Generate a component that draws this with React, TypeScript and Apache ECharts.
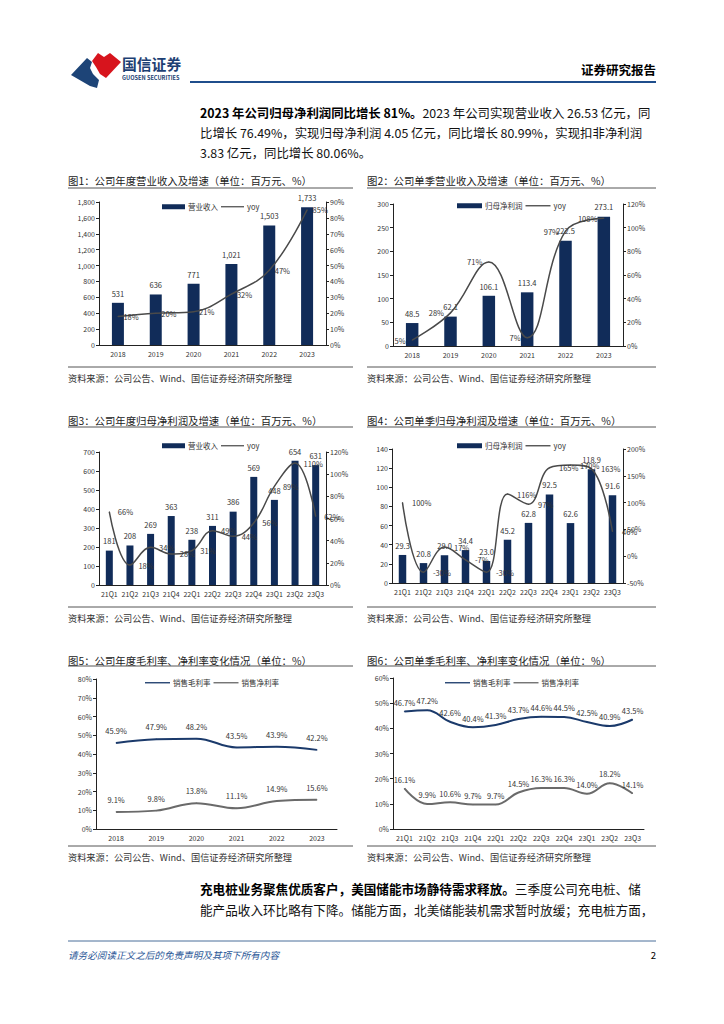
import React, { useEffect, useRef } from "react";
import * as echarts from "echarts";

// ---------- data ----------
const years = ["2018", "2019", "2020", "2021", "2022", "2023"];
const quarters = ["21Q1", "21Q2", "21Q3", "21Q4", "22Q1", "22Q2", "22Q3", "22Q4", "23Q1", "23Q2", "23Q3"];

const c1Revenue = [531, 636, 771, 1021, 1503, 1733];
const c1Yoy = [18, 20, 21, 32, 47, 85];

const c2Profit = [48.5, 62.1, 106.1, 113.4, 222.5, 273.1];
const c2Yoy = [5, 28, 71, 7, 97, 108];

const c3Revenue = [181, 208, 269, 363, 238, 311, 386, 569, 448, 654, 631];
const c3Yoy = [66, 18, 34, 28, 31, 49, 44, 56, 89, 110, 62];

const c4Profit = [29.3, 20.8, 29.0, 34.4, 23.0, 45.2, 62.8, 92.5, 62.6, 118.9, 91.6];
const c4Yoy = [100, -30, 17, -7, -30, 116, 97, 165, 170, 163, 46];

const c5Gross = [45.9, 47.9, 48.2, 43.5, 43.9, 42.2];
const c5Net = [9.1, 9.8, 13.8, 11.1, 14.9, 15.6];

const c6Gross = [46.7, 47.2, 42.6, 40.4, 41.3, 43.7, 44.6, 44.5, 42.5, 40.9, 43.5];
const c6Net = [16.1, 9.9, 10.6, 9.7, 9.7, 14.5, 16.3, 16.3, 14.0, 18.2, 14.1];

const titles = [
  "图1：公司年度营业收入及增速（单位：百万元、%）",
  "图2：公司单季营业收入及增速（单位：百万元、%）",
  "图3：公司年度归母净利润及增速（单位：百万元、%）",
  "图4：公司单季归母净利润及增速（单位：百万元、%）",
  "图5：公司年度毛利率、净利率变化情况（单位：%）",
  "图6：公司单季毛利率、净利率变化情况（单位：%）",
];
const sourceText = "资料来源：公司公告、Wind、国信证券经济研究所整理";

// ---------- styles ----------
const NAVY = "#112c59";
const GRAY_LINE = "#4a4a4a";
const GROSS_LINE = "#1b3a6b";
const NET_LINE = "#6a6a6a";
const FONT = '"Noto Sans CJK SC", "Liberation Sans", sans-serif';
const TXT = "#333";
const LINE_ICON = "path://M0,0 L30,0 L30,1.6 L0,1.6 Z";

const grids = [
  { left: 99, top: 202, width: 227, height: 143 },
  { left: 393, top: 204, width: 230, height: 142 },
  { left: 99, top: 452, width: 227, height: 133 },
  { left: 392, top: 449, width: 231, height: 134 },
  { left: 96, top: 679, width: 241, height: 150 },
  { left: 393, top: 678, width: 251, height: 151 },
];

function xAxis(gridIndex: number, data: string[]) {
  return {
    type: "category",
    gridIndex,
    data,
    axisLine: { show: true, lineStyle: { color: "#222", width: 1 } },
    axisTick: { show: false },
    axisLabel: { interval: 0, fontSize: 7, color: TXT, margin: 5, fontFamily: FONT },
  };
}

function yAxis(gridIndex: number, position: string, min: number, max: number, interval: number, formatter: any) {
  return {
    type: "value",
    gridIndex,
    position,
    min,
    max,
    interval,
    axisLine: { show: true, lineStyle: { color: "#222", width: 1 } },
    axisTick: { show: true, length: 3, lineStyle: { color: "#222" } },
    splitLine: { show: false },
    axisLabel: { fontSize: 7, color: TXT, margin: 4, fontFamily: FONT, formatter },
  };
}

const thousands = (v: number) => v.toLocaleString("en-US");
const pct = (v: number) => v + "%";

function barSeries(name: string, xi: number, yi: number, data: number[], barWidth: number, fmt: (v: number) => string) {
  return {
    type: "bar",
    name,
    xAxisIndex: xi,
    yAxisIndex: yi,
    data,
    barWidth,
    itemStyle: { color: NAVY },
    label: {
      show: true,
      position: "top",
      distance: 6,
      fontSize: 7.5,
      color: TXT,
      fontFamily: FONT,
      formatter: (p: any) => fmt(p.value),
    },
  };
}

function lineSeries(
  name: string,
  xi: number,
  yi: number,
  data: number[],
  color: string,
  width: number,
  pos: string,
  dist: number,
  fmt: (v: number) => string
) {
  return {
    type: "line",
    name,
    xAxisIndex: xi,
    yAxisIndex: yi,
    data,
    smooth: 0.4,
    symbol: "circle",
    symbolSize: 1,
    itemStyle: { color },
    lineStyle: { color, width },
    label: {
      show: true,
      position: pos,
      distance: dist,
      fontSize: 7.5,
      color: TXT,
      fontFamily: FONT,
      formatter: (p: any) => fmt(p.value),
    },
  };
}

function legend(left: number, top: number, data: any[], itemWidth: number, itemHeight: number) {
  return {
    left,
    top,
    padding: 0,
    itemGap: 3,
    itemWidth,
    itemHeight,
    symbolKeepAspect: true,
    textStyle: { fontSize: 7.5, color: TXT, fontFamily: FONT, padding: [0, 0, 0, -2] },
    data,
  };
}

function txt(text: string, x: number, y: number, fontSize: number, opts: any = {}) {
  return {
    type: "text",
    x,
    y,
    silent: true,
    style: {
      text,
      fontSize,
      fontFamily: FONT,
      fill: opts.fill || "#111",
      fontWeight: opts.fontWeight || "normal",
      fontStyle: opts.fontStyle || "normal",
      textAlign: opts.align || "left",
      textVerticalAlign: "middle",
    },
  };
}

function richLine(bold: string, normal: string, x: number, y: number, fontSize: number) {
  return {
    type: "text",
    x,
    y,
    silent: true,
    style: {
      text: (bold ? "{b|" + bold + "}" : "") + (normal ? "{n|" + normal + "}" : ""),
      textVerticalAlign: "middle",
      rich: {
        b: { fontSize, fontFamily: FONT, fontWeight: "bold", fill: "#000" },
        n: { fontSize, fontFamily: FONT, fontWeight: "normal", fill: "#111" },
      },
    },
  };
}

function hline(x1: number, x2: number, y: number, color: string, width: number) {
  return {
    type: "line",
    silent: true,
    shape: { x1, y1: y, x2, y2: y },
    style: { stroke: color, lineWidth: width },
  };
}

function buildOption() {
  const graphics: any[] = [];
  // header logo
  graphics.push({
    type: "polygon",
    silent: true,
    shape: { points: [[71, 75], [87, 58], [92, 62], [90, 68], [93, 74], [99, 80], [97, 88], [90, 86]] },
    style: { fill: "#1d4477" },
  });
  graphics.push({
    type: "polygon",
    silent: true,
    shape: { points: [[92, 61], [98, 53], [104, 57], [110, 53], [121, 62], [106, 78], [100, 74], [96, 67]] },
    style: { fill: "#d7141d" },
  });
  graphics.push(txt("国信证券", 122, 63, 14.8, { fill: "#1d3f73", fontWeight: "bold" }));
  graphics.push(txt("GUOSEN SECURITIES", 122, 78, 5.6, { fill: "#1d3f73", fontWeight: "bold" }));
  graphics.push(txt("证券研究报告", 656, 69, 12.5, { fill: "#000", fontWeight: "bold", align: "right" }));
  graphics.push(hline(190, 656, 82, "#1f4e8c", 2));

  // top paragraph
  graphics.push(richLine("2023 年公司归母净利润同比增长 81%。", "2023 年公司实现营业收入 26.53 亿元，同", 200, 113, 12.4));
  graphics.push(richLine("", "比增长 76.49%，实现归母净利润 4.05 亿元，同比增长 80.99%，实现扣非净利润", 200, 133, 12.4));
  graphics.push(richLine("", "3.83 亿元，同比增长 80.06%。", 200, 153, 12.4));

  // chart titles, rules, sources
  const colX = [[68, 353], [367, 656]];
  const titleY = [180, 420, 660];
  const titleLineY = [188, 427, 666];
  const srcLineY = [367, 607, 846];
  const srcY = [378, 618, 857];
  for (let r = 0; r < 3; r++) {
    for (let c = 0; c < 2; c++) {
      const [x1, x2] = colX[c];
      graphics.push(txt(titles[r * 2 + c], x1, titleY[r], 10.4, { fill: "#222" }));
      graphics.push(hline(x1, x2, titleLineY[r], "#555", 1));
      graphics.push(hline(x1, x2, srcLineY[r], "#555", 1));
      graphics.push(txt(sourceText, x1, srcY[r], 9.2, { fill: "#333" }));
    }
  }

  // bottom paragraph
  graphics.push(richLine("充电桩业务聚焦优质客户，美国储能市场静待需求释放。", "三季度公司充电桩、储", 200, 888, 12.6));
  graphics.push(richLine("", "能产品收入环比略有下降。储能方面，北美储能装机需求暂时放缓；充电桩方面，", 200, 909, 12.6));

  // footer
  graphics.push(hline(68, 656, 941, "#4a6f9a", 1));
  graphics.push(txt("请务必阅读正文之后的免责声明及其项下所有内容", 68, 955, 9.6, { fill: "#2b5797", fontStyle: "italic" }));
  graphics.push(txt("2", 656, 955, 9.6, { fill: "#000", align: "right" }));

  return {
    animation: false,
    backgroundColor: "#fff",
    grid: grids,
    xAxis: [
      xAxis(0, years),
      xAxis(1, years),
      xAxis(2, quarters),
      xAxis(3, quarters),
      xAxis(4, years),
      xAxis(5, quarters),
    ],
    yAxis: [
      yAxis(0, "left", 0, 1800, 200, thousands),
      yAxis(0, "right", 0, 90, 10, "{value}%"),
      yAxis(1, "left", 0, 300, 50, "{value}"),
      yAxis(1, "right", 0, 120, 20, "{value}%"),
      yAxis(2, "left", 0, 700, 100, "{value}"),
      yAxis(2, "right", 0, 120, 20, "{value}%"),
      yAxis(3, "left", 0, 140, 20, "{value}"),
      yAxis(3, "right", -50, 200, 50, "{value}%"),
      yAxis(4, "left", 0, 80, 10, "{value}%"),
      yAxis(5, "left", 0, 60, 10, "{value}%"),
    ],
    legend: [
      legend(162, 203, [{ name: "营业收入", icon: "rect" }, { name: "yoy", icon: LINE_ICON }], 23, 5),
      legend(457, 202, [{ name: "归母净利润", icon: "rect" }, { name: "yoy", icon: LINE_ICON }], 25, 5),
      legend(162, 442, [{ name: "营业收入", icon: "rect" }, { name: "yoy", icon: LINE_ICON }], 23, 5),
      legend(457, 442, [{ name: "归母净利润", icon: "rect" }, { name: "yoy", icon: LINE_ICON }], 25, 5),
      legend(145, 679, [{ name: "销售毛利率", icon: LINE_ICON }, { name: "销售净利率", icon: LINE_ICON }], 25, 5),
      legend(445, 679, [{ name: "销售毛利率", icon: LINE_ICON }, { name: "销售净利率", icon: LINE_ICON }], 25, 5),
    ],
    series: [
      barSeries("营业收入", 0, 0, c1Revenue, 12, thousands),
      lineSeries("yoy", 0, 1, c1Yoy, GRAY_LINE, 1.5, "right", 5, pct),
      barSeries("归母净利润", 1, 2, c2Profit, 12.5, (v) => v.toFixed(1)),
      lineSeries("yoy", 1, 3, c2Yoy, GRAY_LINE, 1.5, "left", 6, pct),
      barSeries("营业收入", 2, 4, c3Revenue, 7, (v) => String(v)),
      lineSeries("yoy", 2, 5, c3Yoy, GRAY_LINE, 1.5, "right", 8, pct),
      barSeries("归母净利润", 3, 6, c4Profit, 7.5, (v) => v.toFixed(1)),
      lineSeries("yoy", 3, 7, c4Yoy, GRAY_LINE, 1.5, "right", 9, pct),
      lineSeries("销售毛利率", 4, 8, c5Gross, GROSS_LINE, 2, "top", 8, (v) => v.toFixed(1) + "%"),
      lineSeries("销售净利率", 4, 8, c5Net, NET_LINE, 2, "top", 8, (v) => v.toFixed(1) + "%"),
      lineSeries("销售毛利率", 5, 9, c6Gross, GROSS_LINE, 2, "top", 5, (v) => v.toFixed(1) + "%"),
      lineSeries("销售净利率", 5, 9, c6Net, NET_LINE, 2, "top", 5, (v) => v.toFixed(1) + "%"),
    ],
    graphic: { elements: graphics },
  };
}

export default function App() {
  const ref = useRef<HTMLDivElement>(null);
  useEffect(() => {
    if (!ref.current) return;
    const chart = echarts.init(ref.current, null, { renderer: "svg" });
    chart.setOption(buildOption() as any);
    return () => chart.dispose();
  }, []);
  return (
    <div
      ref={ref}
      style={{ position: "absolute", left: 0, top: 0, width: 724, height: 1024, background: "#fff" }}
    />
  );
}
